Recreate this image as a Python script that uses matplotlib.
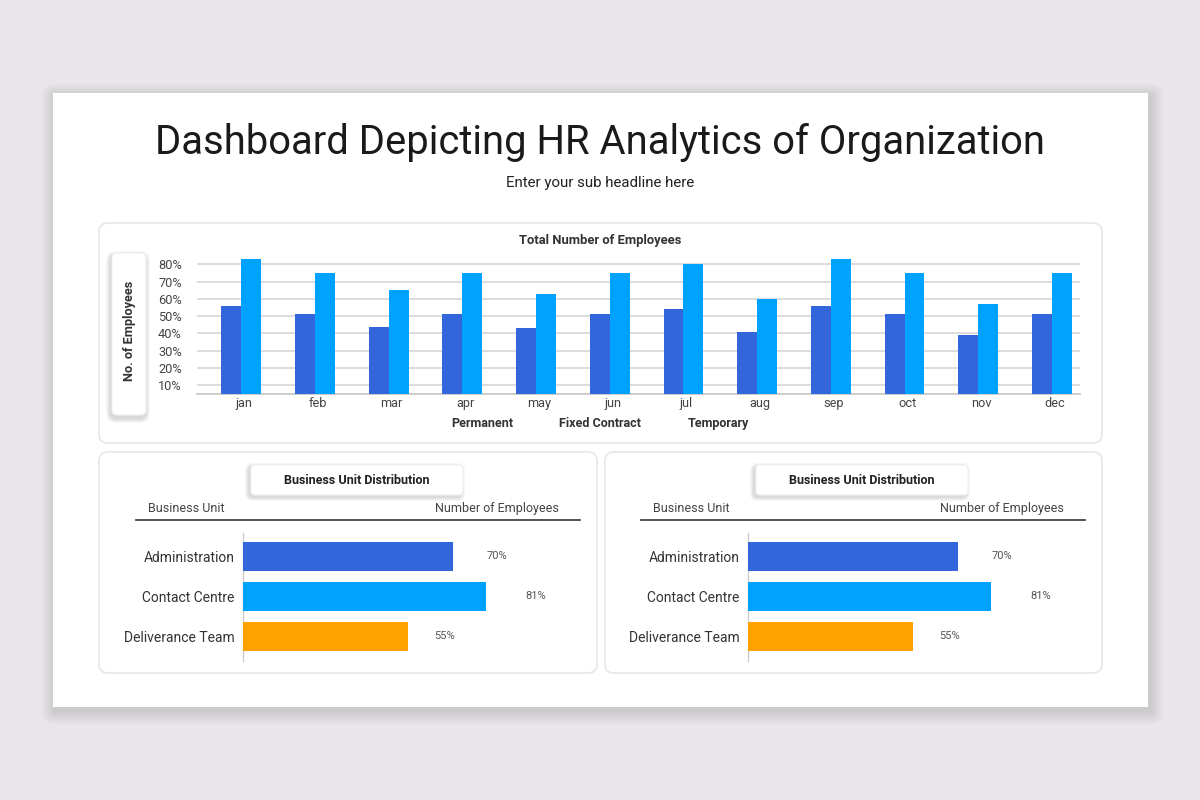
import numpy as np
import matplotlib
matplotlib.use("Agg")
import matplotlib.pyplot as plt
from matplotlib.patches import FancyBboxPatch, Rectangle

plt.rcParams['font.family'] = ['Roboto', 'DejaVu Sans']

# ---------------- data ----------------
months = ["jan", "feb", "mar", "apr", "may", "jun", "jul", "aug", "sep", "oct", "nov", "dec"]
permanent = [56, 51, 44, 51, 43, 51, 54, 41, 56, 51, 39, 51]
fixed_contract = [83, 75, 65, 75, 63, 75, 80, 60, 83, 75, 57, 75]
series_names = ["Permanent", "Fixed Contract", "Temporary"]
y_ticks = [10, 20, 30, 40, 50, 60, 70, 80]

units = ["Administration", "Contact Centre", "Deliverance Team"]
unit_values = [70, 81, 55]

title = "Dashboard Depicting HR Analytics of Organization"
subtitle = "Enter your sub headline here"

# ---------------- styles ----------------
C_DARK = "#3366DB"
C_LIGHT = "#00A2FF"
C_ORANGE = "#FFA200"
unit_colors = [C_DARK, C_LIGHT, C_ORANGE]
W, H = 1200, 800

fig = plt.figure(figsize=(12, 8), dpi=100)
fig.patch.set_facecolor("#E8E6E8")

bg = fig.add_axes([0, 0, 1, 1], zorder=0)
bg.set_xlim(0, W)
bg.set_ylim(H, 0)
bg.axis("off")


def rbox(x0, y0, x1, y1, r=8, fc="white", ec="none", lw=0, z=1, alpha=1.0):
    p = FancyBboxPatch((x0, y0), x1 - x0, y1 - y0,
                       boxstyle=f"round,pad=0,rounding_size={r}",
                       fc=fc, ec=ec, lw=lw, zorder=z, alpha=alpha)
    bg.add_patch(p)


def shadow(x0, y0, x1, y1, r, dx, dy, spread, z, color="#000000", a=0.025):
    for i in range(spread, 0, -1):
        rbox(x0 - i + dx, y0 - i + dy, x1 + i + dx, y1 + i + dy, r=r + i,
             fc=color, z=z, alpha=a)


def fx(px):
    return px / W


def fy(py):
    return 1 - py / H


# card
shadow(53, 93, 1148, 707, 0, 2, 4, 14, 1, a=0.009)
bg.add_patch(Rectangle((53, 93), 1095, 614, fc="white", ec="none", zorder=2))

# title
bg.text(600, 154, title, ha="center", va="baseline", fontsize=28.8,
        color="#1A1A1A", zorder=5)
bg.text(600, 187, subtitle, ha="center", va="baseline", fontsize=10.8,
        color="#222222", zorder=5)

# panels
rbox(99, 223, 1102, 443, r=9, fc="white", ec="#E8E8E8", lw=1.3, z=3)
rbox(99, 452, 597, 673, r=9, fc="white", ec="#E8E8E8", lw=1.3, z=3)
rbox(605, 452, 1102, 673, r=9, fc="white", ec="#E8E8E8", lw=1.3, z=3)

# y-label box in top panel
shadow(112, 253, 146, 415, 5, -1, 3, 5, 4, a=0.03)
rbox(112, 253, 146, 415, r=5, fc="white", ec="#EFEFEF", lw=0.8, z=4)
bg.text(129, 331, "No. of Employees", rotation=90, ha="center", va="center",
        fontsize=9.2, fontweight="bold", color="#333333", zorder=5)

bg.text(600, 244, "Total Number of Employees", ha="center", va="baseline",
        fontsize=9.4, fontweight="bold", color="#333333", zorder=5)

# ---------------- top bar chart ----------------
ax = fig.add_axes([fx(197), fy(394), fx(1080) - fx(197), (394 - 255.7) / H], zorder=6)
ax.set_facecolor("none")
x = np.arange(len(months))
w = 0.27
ax.bar(x - w, permanent, width=w, align="edge", color=C_DARK, zorder=3,
       label=series_names[0])
ax.bar(x, fixed_contract, width=w, align="edge", color=C_LIGHT, zorder=3,
       label=series_names[1])
ax.set_xlim(-0.6, 11.38)
ax.set_ylim(5, 85)
ax.set_yticks(y_ticks)
ax.set_yticklabels([f"{v}%" for v in y_ticks])
ax.set_xticks(x + 0.04)
ax.set_xticklabels(months)
ax.tick_params(axis="y", length=0, pad=11, labelsize=9.2, labelcolor="#444444")
ax.tick_params(axis="x", length=0, pad=2, labelsize=9.2, labelcolor="#444444")
ax.grid(axis="y", color="#D6D6D6", lw=1.2, zorder=0)
for s in ["top", "right", "left"]:
    ax.spines[s].set_visible(False)
ax.spines["bottom"].set_color("#C8C8C8")
ax.spines["bottom"].set_linewidth(1.3)

# legend (text only, as in the reference)
for name, cx in zip(series_names, [482, 600, 718]):
    bg.text(cx, 427, name, ha="center", va="baseline", fontsize=9,
            fontweight="bold", color="#333333", zorder=5)

# ---------------- bottom panels ----------------
for off in [0, 505]:
    # title box
    shadow(251 + off, 465, 463 + off, 495, 4, -2, 2, 4, 4, a=0.035)
    rbox(251 + off, 465, 463 + off, 495, r=4, fc="white", ec="#F0F0F0", lw=0.8, z=4)
    bg.text(357 + off, 484, "Business Unit Distribution", ha="center", va="baseline",
            fontsize=9, fontweight="bold", color="#222222", zorder=5)
    bg.text(148 + off, 512, "Business Unit", ha="left", va="baseline",
            fontsize=9, color="#444444", zorder=5)
    bg.text(559 + off, 512, "Number of Employees", ha="right", va="baseline",
            fontsize=9, color="#444444", zorder=5)
    bg.plot([136 + off, 580 + off], [520, 520], color="#444444", lw=1.3, zorder=5)

    bx = fig.add_axes([fx(243 + off), fy(660.7), 300 / W, (660.7 - 532.7) / H], zorder=6)
    bx.set_facecolor("none")
    yy = np.arange(len(units))
    bx.barh(yy, unit_values, height=0.72, color=unit_colors, zorder=3)
    bx.set_xlim(0, 100)
    bx.set_ylim(2.61, -0.59)
    bx.set_yticks(yy)
    bx.set_yticklabels(units)
    bx.set_xticks([])
    bx.tick_params(axis="y", length=0, pad=6, labelsize=10, labelcolor="#333333")
    for s in ["top", "right", "bottom"]:
        bx.spines[s].set_visible(False)
    bx.spines["left"].set_color("#CCCCCC")
    bx.spines["left"].set_linewidth(1.0)
    for yi, v in zip(yy, unit_values):
        bx.text(v * 1.16, yi, f"{v}%", ha="left", va="center", fontsize=8,
                color="#555555")

fig.savefig("out.png", dpi=100, facecolor=fig.get_facecolor())
